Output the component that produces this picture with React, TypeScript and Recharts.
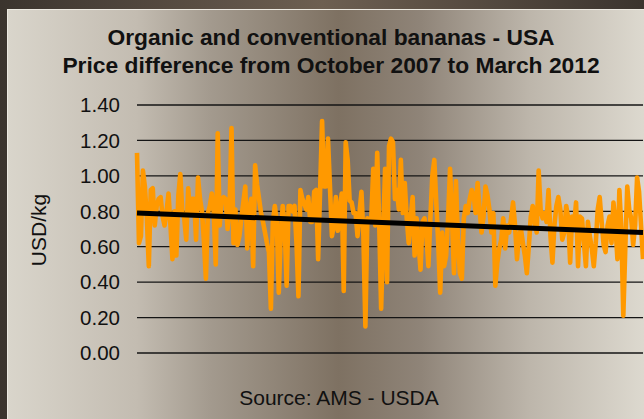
import React from 'react';
import { LineChart, Line, XAxis, YAxis, CartesianGrid } from 'recharts';

// Weekly price difference (USD/kg), organic minus conventional bananas, Oct 2007 - Mar 2012
const seg1 = [1.13, 0.62, 0.66, 1.03, 0.94, 0.76, 0.49, 0.92, 0.93, 0.72, 0.83, 0.87, 0.88, 0.77, 0.72, 0.80, 0.90, 0.72, 0.53, 0.80, 0.55, 0.89, 1.01, 0.80, 0.76, 0.64, 0.93, 0.78, 0.87, 0.87, 0.64, 0.99, 0.87, 0.80, 0.63, 0.42, 0.79, 0.83, 0.90, 0.79, 0.50, 1.24, 0.72, 0.87];
const seg2 = [0.88, 0.87, 0.70, 0.81, 1.27, 0.62, 0.81, 0.61, 0.66, 0.76, 0.85, 0.94, 0.59, 0.81, 0.87, 0.49, 1.06, 0.95, 0.87, 0.79, 0.74, 0.68, 0.62, 0.57, 0.25, 0.74, 0.83, 0.74, 0.34, 0.66, 0.83, 0.72, 0.38, 0.83, 0.83, 0.80, 0.83, 0.62, 0.32, 0.92, 0.87, 0.84, 0.81];
const seg3 = [0.88, 0.74, 0.74, 0.91, 0.92, 0.53, 0.92, 1.31, 0.94, 0.94, 1.21, 0.94, 0.66, 0.72, 0.88, 0.69, 0.81, 0.90, 0.35, 1.19, 1.09, 0.86, 0.85, 0.79, 0.79, 0.66, 0.79, 0.91, 0.66, 0.15, 0.76, 0.74, 0.76, 1.04, 0.72, 1.13, 0.74, 0.25, 0.66, 1.04, 0.40, 1.17, 1.21];
const seg4 = [1.19, 0.87, 0.92, 0.81, 1.09, 0.79, 0.96, 0.76, 0.62, 0.76, 0.88, 0.55, 0.76, 0.62, 0.47, 0.74, 0.76, 0.66, 0.49, 0.76, 1.00, 1.09, 0.85, 0.62, 0.34, 0.68, 0.49, 0.55, 0.76, 1.04, 0.76, 0.45, 0.97, 0.64, 0.45, 0.42, 0.76, 0.83, 0.79, 0.87, 0.92, 0.89, 0.79];
const seg5 = [0.96, 0.81, 0.68, 0.77, 0.94, 0.89, 0.81, 0.68, 0.79, 0.38, 0.51, 0.59, 0.64, 0.76, 0.59, 0.72, 0.68, 0.76, 0.85, 0.72, 0.53, 0.66, 0.70, 0.62, 0.55, 0.45, 0.60, 0.77, 0.83, 0.74, 0.68, 1.03, 0.81, 0.76, 0.79, 0.74, 0.92, 0.66, 0.51, 0.72, 0.83, 0.88, 0.81, 0.64];
const seg6 = [0.68, 0.83, 0.76, 0.51, 0.77, 0.72, 0.85, 0.49, 0.77, 0.76, 0.62, 0.49, 0.74, 0.66, 0.59, 0.49, 0.62, 0.81, 0.88, 0.74, 0.61, 0.57, 0.72, 0.77, 0.62, 0.85, 0.72, 0.53, 0.92, 0.70, 0.21, 0.59, 0.94, 0.81, 0.76, 0.61, 0.72, 0.99, 0.91, 0.72, 0.53];

const priceDiff = [...seg1, ...seg2, ...seg3, ...seg4, ...seg5, ...seg6];
const trendEnds = [0.79, 0.68];
const yTicks = [0, 0.2, 0.4, 0.6, 0.8, 1.0, 1.2, 1.4];

const titleLines = ['Organic and conventional bananas - USA', 'Price difference from October 2007 to March 2012'];
const yLabel = 'USD/kg';
const sourceText = 'Source: AMS - USDA';

const data = priceDiff.map((v, i) => ({
  i,
  price: v,
  trend: i === 0 ? trendEnds[0] : i === priceDiff.length - 1 ? trendEnds[1] : null,
}));

const FONT = '"Liberation Sans", Arial, sans-serif';

export default function App() {
  return (
    <div
      style={{
        position: 'relative',
        width: 644,
        height: 419,
        overflow: 'hidden',
        background: 'linear-gradient(to right, #3b342e 0%, #6d5f51 50%, #3b342e 100%)',
        fontFamily: FONT,
      }}
    >
      <style>{`body{margin:0}`}</style>
      <div
        style={{
          position: 'absolute',
          left: 7,
          top: 9,
          width: 661,
          height: 420,
          borderLeft: '1px solid #ece9e1',
          borderTop: '1px solid #ece9e1',
          background:
            'linear-gradient(to right, #d9d5cb 0%, #c3bcb1 19.5%, #a39a8e 30.6%, #7e7162 50%, #8f8478 62.4%, #bdb6ab 79%, #dcd8ce 95.8%, #ddd9cf 100%)',
        }}
      />
      <LineChart
        width={644}
        height={419}
        data={data}
        margin={{ top: 105, right: 1, bottom: 66, left: 0 }}
        style={{ position: 'absolute', left: 0, top: 0 }}
      >
        <CartesianGrid vertical={false} stroke="#151515" strokeWidth={1.3} />
        <XAxis type="number" dataKey="i" domain={[0, priceDiff.length - 1]} hide />
        <YAxis
          domain={[0, 1.4]}
          ticks={yTicks}
          tickFormatter={(v: number) => v.toFixed(2)}
          axisLine={false}
          tickLine={false}
          tickSize={6}
          tickMargin={11}
          width={137}
          tick={{ fill: '#111', fontSize: 20.5, fontFamily: FONT }}
        />
        <Line
          type="linear"
          dataKey="price"
          stroke="#FF9900"
          strokeWidth={4.6}
          dot={false}
          isAnimationActive={false}
          strokeLinejoin="round"
        />
        <Line
          type="linear"
          dataKey="trend"
          stroke="#000"
          strokeWidth={5}
          dot={false}
          connectNulls
          isAnimationActive={false}
        />
      </LineChart>
      <div
        style={{
          position: 'absolute',
          left: 0,
          top: 23,
          width: 662,
          textAlign: 'center',
          fontWeight: 'bold',
          fontSize: 22.8,
          lineHeight: '28px',
          color: '#111',
        }}
      >
        {titleLines.map((t) => (
          <div key={t}>{t}</div>
        ))}
      </div>
      <div
        style={{
          position: 'absolute',
          left: 38,
          top: 230,
          transform: 'translate(-50%, -50%) rotate(-90deg)',
          whiteSpace: 'nowrap',
          fontSize: 21,
          lineHeight: 1,
          color: '#111',
        }}
      >
        {yLabel}
      </div>
      <div
        style={{
          position: 'absolute',
          left: 0,
          top: 384,
          width: 678,
          textAlign: 'center',
          fontSize: 21,
          lineHeight: '28px',
          color: '#111',
        }}
      >
        {sourceText}
      </div>
    </div>
  );
}
